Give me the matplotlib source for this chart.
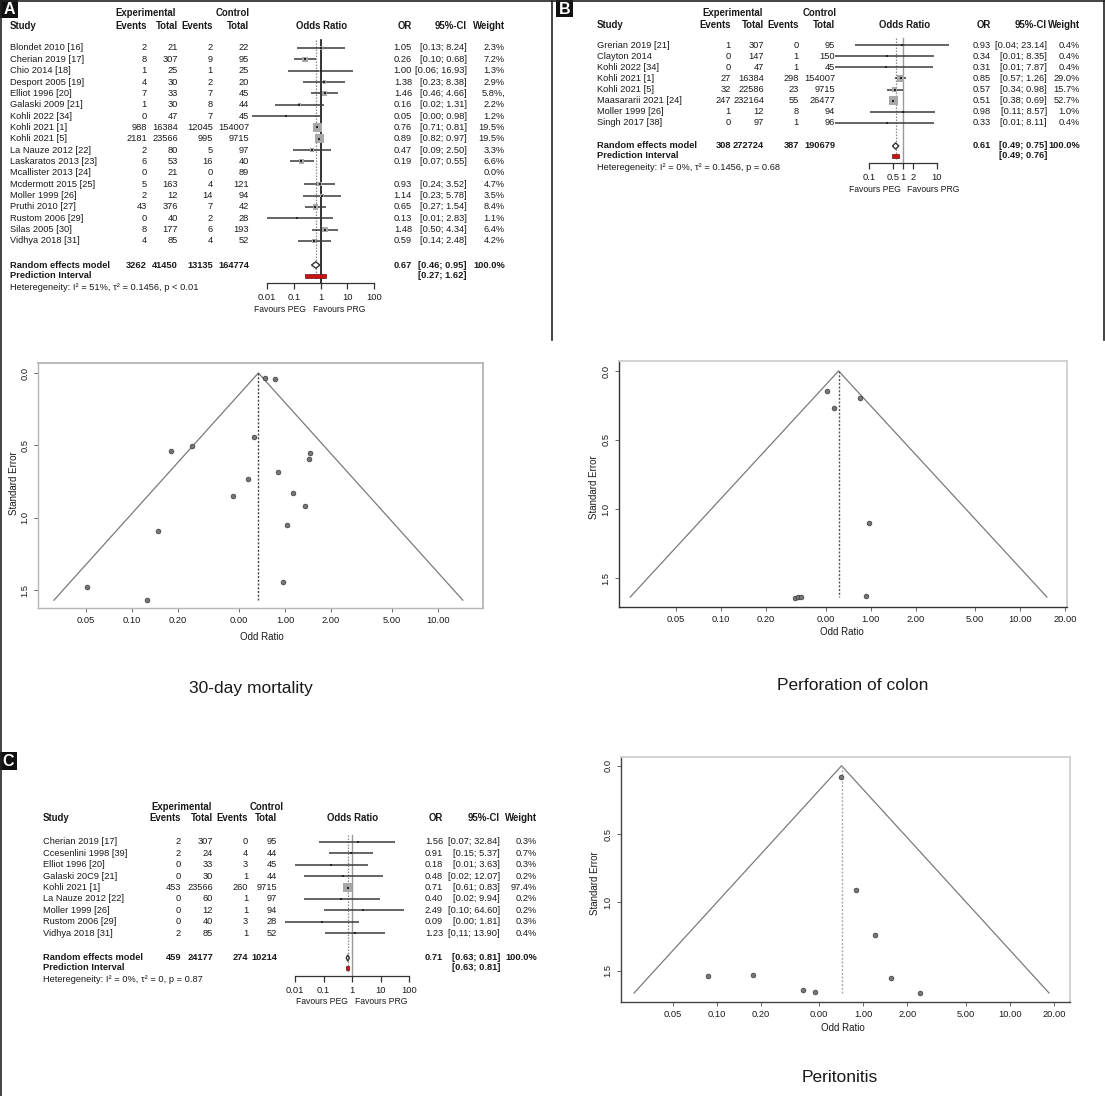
import numpy as np
import matplotlib
matplotlib.use("Agg")
import matplotlib.pyplot as plt
from matplotlib.patches import Rectangle, Polygon

plt.rcParams['font.family'] = ['Liberation Sans', 'DejaVu Sans']

# ---------------- DATA ----------------
# Panel A : 30-day mortality
studies_A = ["Blondet 2010 [16]", "Cherian 2019 [17]", "Chio 2014 [18]", "Desport 2005 [19]",
             "Elliot 1996 [20]", "Galaski 2009 [21]", "Kohli 2022 [34]", "Kohli 2021 [1]",
             "Kohli 2021 [5]", "La Nauze 2012 [22]", "Laskaratos 2013 [23]", "Mcallister 2013 [24]",
             "Mcdermott 2015 [25]", "Moller 1999 [26]", "Pruthi 2010 [27]", "Rustom 2006 [29]",
             "Silas 2005 [30]", "Vidhya 2018 [31]"]
exp_events_A = [2, 8, 1, 4, 7, 1, 0, 988, 2181, 2, 6, 0, 5, 2, 43, 0, 8, 4]
exp_total_A = [21, 307, 25, 30, 33, 30, 47, 16384, 23566, 80, 53, 21, 163, 12, 376, 40, 177, 85]
ctl_events_A = [2, 9, 1, 2, 7, 8, 7, 12045, 995, 5, 16, 0, 4, 14, 7, 2, 6, 4]
ctl_total_A = [22, 95, 25, 20, 45, 44, 45, 154007, 9715, 97, 40, 89, 121, 94, 42, 28, 193, 52]
or_A = [1.05, 0.26, 1.00, 1.38, 1.46, 0.16, 0.05, 0.76, 0.89, 0.47, 0.19, np.nan, 0.93, 1.14, 0.65, 0.13, 1.48, 0.59]
lo_A = [0.13, 0.10, 0.06, 0.23, 0.46, 0.02, 0.00, 0.71, 0.82, 0.09, 0.07, np.nan, 0.24, 0.23, 0.27, 0.01, 0.50, 0.14]
hi_A = [8.24, 0.68, 16.93, 8.38, 4.66, 1.31, 0.98, 0.81, 0.97, 2.50, 0.55, np.nan, 3.52, 5.78, 1.54, 2.83, 4.34, 2.48]
weight_A = [2.3, 7.2, 1.3, 2.9, 5.8, 2.2, 1.2, 19.5, 19.5, 3.3, 6.6, 0.0, 4.7, 3.5, 8.4, 1.1, 6.4, 4.2]
weight_lab_A = ["2.3%", "7.2%", "1.3%", "2.9%", "5.8%,", "2.2%", "1.2%", "19.5%", "19.5%", "3.3%",
                "6.6%", "0.0%", "4.7%", "3.5%", "8.4%", "1.1%", "6.4%", "4.2%"]
ci_lab_A = ["[0.13; 8.24]", "[0.10; 0.68]", "[0.06; 16.93]", "[0.23; 8.38]", "[0.46; 4.66]",
            "[0.02; 1.31]", "[0.00; 0.98]", "[0.71; 0.81]", "[0.82; 0.97]", "[0.09; 2.50]",
            "[0.07; 0.55]", "", "[0.24; 3.52]", "[0.23; 5.78]", "[0.27; 1.54]", "[0.01; 2.83]",
            "[0.50; 4.34]", "[0.14; 2.48]"]
totals_A = [3262, 41450, 13135, 164774]
pooled_A = (0.67, 0.46, 0.95)
pi_A = (0.27, 1.62)
het_A = "Heteregeneity: I² = 51%, τ² = 0.1456, p < 0.01"
ticks_A = [0.01, 0.1, 1, 10, 100]
ticklab_A = ["0.01", "0.1", "1", "10", "100"]

# Panel B : perforation of colon
studies_B = ["Grerian 2019 [21]", "Clayton 2014", "Kohli 2022 [34]", "Kohli 2021 [1]",
             "Kohli 2021 [5]", "Maasararii 2021 [24]", "Moller 1999 [26]", "Singh 2017 [38]"]
exp_events_B = [1, 0, 0, 27, 32, 247, 1, 0]
exp_total_B = [307, 147, 47, 16384, 22586, 232164, 12, 97]
ctl_events_B = [0, 1, 1, 298, 23, 55, 8, 1]
ctl_total_B = [95, 150, 45, 154007, 9715, 26477, 94, 96]
or_B = [0.93, 0.34, 0.31, 0.85, 0.57, 0.51, 0.98, 0.33]
lo_B = [0.04, 0.01, 0.01, 0.57, 0.34, 0.38, 0.11, 0.01]
hi_B = [23.14, 8.35, 7.87, 1.26, 0.98, 0.69, 8.57, 8.11]
weight_B = [0.4, 0.4, 0.4, 29.0, 15.7, 52.7, 1.0, 0.4]
weight_lab_B = ["0.4%", "0.4%", "0.4%", "29.0%", "15.7%", "52.7%", "1.0%", "0.4%"]
ci_lab_B = ["[0.04; 23.14]", "[0.01; 8.35]", "[0.01; 7.87]", "[0.57; 1.26]", "[0.34; 0.98]",
            "[0.38; 0.69]", "[0.11; 8.57]", "[0.01; 8.11]"]
totals_B = [308, 272724, 387, 190679]
pooled_B = (0.61, 0.49, 0.75)
pi_B = (0.49, 0.76)
het_B = "Heteregeneity: I² = 0%, τ² = 0.1456, p = 0.68"
ticks_B = [0.1, 0.5, 1, 2, 10]
ticklab_B = ["0.1", "0.5", "1", "2", "10"]

# Panel C : peritonitis
studies_C = ["Cherian 2019 [17]", "Ccesenlini 1998 [39]", "Elliot 1996 [20]", "Galaski 20C9 [21]",
             "Kohli 2021 [1]", "La Nauze 2012 [22]", "Moller 1999 [26]", "Rustom 2006 [29]",
             "Vidhya 2018 [31]"]
exp_events_C = [2, 2, 0, 0, 453, 0, 0, 0, 2]
exp_total_C = [307, 24, 33, 30, 23566, 60, 12, 40, 85]
ctl_events_C = [0, 4, 3, 1, 260, 1, 1, 3, 1]
ctl_total_C = [95, 44, 45, 44, 9715, 97, 94, 28, 52]
or_C = [1.56, 0.91, 0.18, 0.48, 0.71, 0.40, 2.49, 0.09, 1.23]
lo_C = [0.07, 0.15, 0.01, 0.02, 0.61, 0.02, 0.10, 0.00, 0.11]
hi_C = [32.84, 5.37, 3.63, 12.07, 0.83, 9.94, 64.60, 1.81, 13.90]
weight_C = [0.3, 0.7, 0.3, 0.2, 97.4, 0.2, 0.2, 0.3, 0.4]
weight_lab_C = ["0.3%", "0.7%", "0.3%", "0.2%", "97.4%", "0.2%", "0.2%", "0.3%", "0.4%"]
ci_lab_C = ["[0.07; 32.84]", "[0.15; 5.37]", "[0.01; 3.63]", "[0.02; 12.07]", "[0.61; 0.83]",
            "[0.02; 9.94]", "[0.10; 64.60]", "[0.00; 1.81]", "[0,11; 13.90]"]
totals_C = [459, 24177, 274, 10214]
pooled_C = (0.71, 0.63, 0.81)
pi_C = (0.63, 0.81)
het_C = "Heteregeneity: I² = 0%, τ² = 0, p = 0.87"
ticks_C = [0.01, 0.1, 1, 10, 100]
ticklab_C = ["0.01", "0.1", "1", "10", "100"]

# Funnel plots (odds ratio, standard error)
fun_or_A = [0.74, 0.86, 0.63, 0.18, 0.245, 1.45, 1.44, 0.90, 0.57, 0.46, 1.12, 1.35, 1.03, 0.149, 0.97, 0.051, 0.125]
fun_se_A = [0.032, 0.042, 0.445, 0.54, 0.505, 0.55, 0.594, 0.684, 0.73, 0.85, 0.83, 0.92, 1.053, 1.092, 1.444, 1.477, 1.569]
fun_or_B = [0.51, 0.845, 0.571, 0.975, 0.926, 0.314, 0.327, 0.34]
fun_se_B = [0.145, 0.193, 0.268, 1.104, 1.633, 1.642, 1.638, 1.635]
fun_or_C = [0.705, 0.89, 1.21, 0.087, 0.176, 1.54, 0.39, 0.466, 2.44]
fun_se_C = [0.083, 0.907, 1.241, 1.536, 1.534, 1.556, 1.644, 1.653, 1.666]
fun_pooled = [0.67, 0.61, 0.71]
fun_semax = [1.57, 1.638, 1.663]
fun_ticks = [0.05, 0.1, 0.2, 0.5, 1, 2, 5, 10, 20]
fun_ticklabels = ["0.05", "0.10", "0.20", "0.00", "1.00", "2.00", "5.00", "10.00", "20.00"]
captions = ["30-day mortality", "Perforation of colon", "Peritonitis"]

# ---------------- FIGURE ----------------
W, H = 1105, 1096
fig = plt.figure(figsize=(W / 100, H / 100), dpi=100)


def axes_px(x0, y0, x1, y1):
    return fig.add_axes([x0 / W, 1 - y1 / H, (x1 - x0) / W, (y1 - y0) / H])


ov = fig.add_axes([0, 0, 1, 1], zorder=5)
ov.set_xlim(0, W)
ov.set_ylim(H, 0)
ov.axis('off')
ov.patch.set_alpha(0)

FS = 6.7
HS = 6.9
DARK = '#1a1a1a'


def T(x, y, s, ha='left', bold=False, size=FS, color=DARK, **kw):
    ov.text(x, y, s, ha=ha, va='center', fontsize=size, color=color,
            fontweight='bold' if bold else 'normal', **kw)


def forest(L, studies, ee, et, ce, ct, orv, lo, hi, w, wlab, cilab, totals, pooled, pi, het, ticks, ticklab):
    # headers
    T(L['exp_c'], L['h1'], "Experimental", ha='center', bold=True, size=HS)
    T(L['ctl_r'], L['h1'], "Control", ha='right', bold=True, size=HS)
    T(L['sx'], L['h2'], "Study", bold=True, size=HS)
    for xr, s in zip(L['cols'], ["Events", "Total", "Events", "Total"]):
        T(xr, L['h2'], s, ha='right', bold=True, size=HS)
    T(L['orc'], L['h2'], "Odds Ratio", ha='center', bold=True, size=HS)
    T(L['or_r'], L['h2'], "OR", ha='right', bold=True, size=HS)
    T(L['ci_r'], L['h2'], "95%-CI", ha='right', bold=True, size=HS)
    T(L['w_r'], L['h2'], "Weight", ha='right', bold=True, size=HS)
    ys = [L['y0'] + i * L['dy'] for i in range(len(studies))]
    for i, y in enumerate(ys):
        T(L['sx'], y, studies[i])
        for xr, v in zip(L['cols'], [ee[i], et[i], ce[i], ct[i]]):
            T(xr, y, str(v), ha='right')
        if not np.isnan(orv[i]):
            T(L['or_r'], y, f"{orv[i]:.2f}", ha='right')
        T(L['ci_r'], y, cilab[i], ha='right')
        T(L['w_r'], y, wlab[i], ha='right')
    yr, yp, yh = L['yr'], L['yp'], L['yh']
    T(L['sx'], yr, "Random effects model", bold=True)
    for xr, v in zip(L['cols'], totals):
        T(xr, yr, str(v), ha='right', bold=True)
    T(L['or_r'], yr, f"{pooled[0]:.2f}", ha='right', bold=True)
    T(L['ci_r'], yr, f"[{pooled[1]:.2f}; {pooled[2]:.2f}]", ha='right', bold=True)
    T(L['w_r'], yr, "100.0%", ha='right', bold=True)
    T(L['sx'], yp, "Prediction Interval", bold=True)
    T(L['ci_r'], yp, f"[{pi[0]:.2f}; {pi[1]:.2f}]", ha='right', bold=True)
    T(L['sx'], yh, het)

    # graphical part
    ax = axes_px(L['ax0'], L['top'], L['ax1'], L['axy'])
    ax.set_xscale('log')
    ax.set_xlim(L['xlim'])
    ax.set_ylim(L['axy'], L['top'])
    for sp in ['top', 'right', 'left']:
        ax.spines[sp].set_visible(False)
    ax.spines['bottom'].set_color('#333333')
    ax.spines['bottom'].set_linewidth(0.9)
    ax.set_yticks([])
    ax.set_xticks(ticks)
    ax.set_xticklabels(ticklab)
    ax.minorticks_off()
    ax.tick_params(axis='x', direction='out', length=4.5, width=0.9, color='#333333',
                   labelsize=FS, labelcolor=DARK, pad=3)
    ax.patch.set_alpha(0)
    ax.plot([1, 1], [L['top'], L['axy']], color=L['one_col'], lw=L['one_lw'], clip_on=False, zorder=1)
    ax.plot([pooled[0]] * 2, [L['top'], L['axy'] - 4], color='#888888', lw=0.9, ls=(0, (1.2, 1.2)),
            clip_on=False, zorder=1)
    wmax = max(w)
    for i, y in enumerate(ys):
        if np.isnan(orv[i]):
            continue
        l = max(lo[i], L['floor'])
        ax.plot([l, hi[i]], [y, y], color='#3a3a3a', lw=1.1, clip_on=False, zorder=2,
                solid_capstyle='butt')
        side = 9.0 * np.sqrt(w[i] / wmax)
        ax.scatter([orv[i]], [y], marker='s', s=(side * 0.72) ** 2, color='#a8a8a8',
                   edgecolors='none', zorder=3, clip_on=False)
        ax.plot([orv[i]], [y], marker='s', ms=1.6, color='#222222', mew=0, zorder=4, clip_on=False)
    # diamond
    hd = 3.2
    ax.add_patch(Polygon([[pooled[1], yr], [pooled[0], yr - hd], [pooled[2], yr], [pooled[0], yr + hd]],
                         closed=True, facecolor='white', edgecolor='#333333', lw=1.0, zorder=5,
                         clip_on=False))
    ax.add_patch(Rectangle((pi[0], yp - 1.6), pi[1] - pi[0], 3.2, facecolor='#cc1111',
                           edgecolor='#661111', lw=0.5, zorder=5, clip_on=False))
    T(L['peg'], L['fy'], "Favours PEG", ha='right', size=6.2)
    T(L['prg'], L['fy'], "Favours PRG", ha='left', size=6.2)


LA = dict(sx=10, h1=13.5, h2=26, exp_c=146, ctl_r=250, cols=[147, 178, 213, 249], orc=321.5,
          or_r=412, ci_r=467, w_r=505, y0=48, dy=11.35, yr=265, yp=276, yh=287,
          ax0=267, ax1=374, xlim=(0.01, 100), top=40, axy=283, floor=0.0028,
          one_col='#111111', one_lw=1.2, peg=306, prg=313, fy=310)
LB = dict(sx=597, h1=13.5, h2=24.5, exp_c=732.5, ctl_r=837, cols=[731, 764, 799, 835], orc=905,
          or_r=991, ci_r=1047, w_r=1080, y0=45, dy=11.14, yr=146, yp=156, yh=168,
          ax0=869, ax1=937, xlim=(0.1, 10), top=38, axy=163, floor=0.003,
          one_col='#999999', one_lw=1.0, peg=901, prg=907, fy=190)
LC = dict(sx=43, h1=807, h2=818, exp_c=181.5, ctl_r=284, cols=[181, 213, 248, 277], orc=352.7,
          or_r=443, ci_r=500, w_r=537, y0=842, dy=11.375, yr=958, yp=968, yh=980,
          ax0=295, ax1=409, xlim=(0.01, 100), top=835, axy=976, floor=0.0043,
          one_col='#999999', one_lw=1.0, peg=348, prg=355, fy=1001)

forest(LA, studies_A, exp_events_A, exp_total_A, ctl_events_A, ctl_total_A, or_A, lo_A, hi_A,
       weight_A, weight_lab_A, ci_lab_A, totals_A, pooled_A, pi_A, het_A, ticks_A, ticklab_A)
forest(LB, studies_B, exp_events_B, exp_total_B, ctl_events_B, ctl_total_B, or_B, lo_B, hi_B,
       weight_B, weight_lab_B, ci_lab_B, totals_B, pooled_B, pi_B, het_B, ticks_B, ticklab_B)
forest(LC, studies_C, exp_events_C, exp_total_C, ctl_events_C, ctl_total_C, or_C, lo_C, hi_C,
       weight_C, weight_lab_C, ci_lab_C, totals_C, pooled_C, pi_C, het_C, ticks_C, ticklab_C)


def funnel(box, xlim, ylim, pooled, semax, ors, ses, nt, spine_lb, spine_tr, dot_col, ylab_xy, xlab_xy):
    ax = axes_px(*box)
    ax.set_xscale('log')
    ax.set_xlim(xlim)
    ax.set_ylim(ylim)
    l = pooled * np.exp(-1.96 * semax)
    r = pooled * np.exp(1.96 * semax)
    ax.plot([l, pooled, r], [semax, 0, semax], color='#7a7a7a', lw=0.9)
    ax.plot([pooled, pooled], [0, semax], color=dot_col, lw=1.0, ls=(0, (1.5, 1.2)))
    ax.plot(ors, ses, 'o', ms=3.4, mfc='#777777', mec='#3a3a3a', mew=0.5, ls='none')
    ax.set_xticks(fun_ticks[:nt])
    ax.set_xticklabels(fun_ticklabels[:nt])
    ax.minorticks_off()
    ax.set_yticks([0.0, 0.5, 1.0, 1.5])
    ax.set_yticklabels(["0.0", "0.5", "1.0", "1.5"], rotation=90, va='center')
    ax.tick_params(labelsize=FS, labelcolor=DARK, length=3, width=0.7, color='#666666', pad=3)
    for sp in ['left', 'bottom']:
        ax.spines[sp].set_color(spine_lb)
        ax.spines[sp].set_linewidth(1.0)
    for sp in ['top', 'right']:
        ax.spines[sp].set_color(spine_tr)
        ax.spines[sp].set_linewidth(1.3)
    T(ylab_xy[0], ylab_xy[1], "Standard Error", ha='center', rotation=90, size=7.0)
    T(xlab_xy[0], xlab_xy[1], "Odd Ratio", ha='center', size=7.0)


funnel((38, 363, 483, 608), (0.0243, 19.7), (1.624, -0.069), fun_pooled[0], fun_semax[0],
       fun_or_A, fun_se_A, 8, '#b5b5b5', '#b5b5b5', '#444444', (14, 483), (262, 637))
funnel((619, 361, 1067, 607), (0.0207, 20.6), (1.71, -0.072), fun_pooled[1], fun_semax[1],
       fun_or_B, fun_se_B, 9, '#333333', '#cfcfcf', '#555555', (594, 487), (842, 632))
funnel((621, 757, 1070, 1002), (0.0222, 25.7), (1.729, -0.064), fun_pooled[2], fun_semax[2],
       fun_or_C, fun_se_C, 9, '#444444', '#cfcfcf', '#aaaaaa', (595, 883), (843, 1028))

T(251, 689, captions[0], ha='center', size=12.5)
T(853, 686, captions[1], ha='center', size=12.5)
T(840, 1078, captions[2], ha='center', size=12.5)

# panel letters
for (x, y, wd, ht, s) in [(0, 0, 18, 18, "A"), (556, 0, 17, 17, "B"), (0, 752, 17, 18, "C")]:
    ov.add_patch(Rectangle((x, y), wd, ht, facecolor='#111111', edgecolor='none'))
    ov.text(x + wd / 2, y + ht / 2 + 0.5, s, ha='center', va='center', color='white',
            fontsize=11.5, fontweight='bold')

# frame lines
ov.plot([1, 1], [0, H], color='#222222', lw=1.2)
ov.plot([0, W], [0.6, 0.6], color='#222222', lw=1.2)
ov.plot([552, 552], [0, 340], color='#222222', lw=1.2)
ov.plot([1104.4, 1104.4], [0, 340], color='#222222', lw=1.2)

fig.savefig("out.png", dpi=100)
